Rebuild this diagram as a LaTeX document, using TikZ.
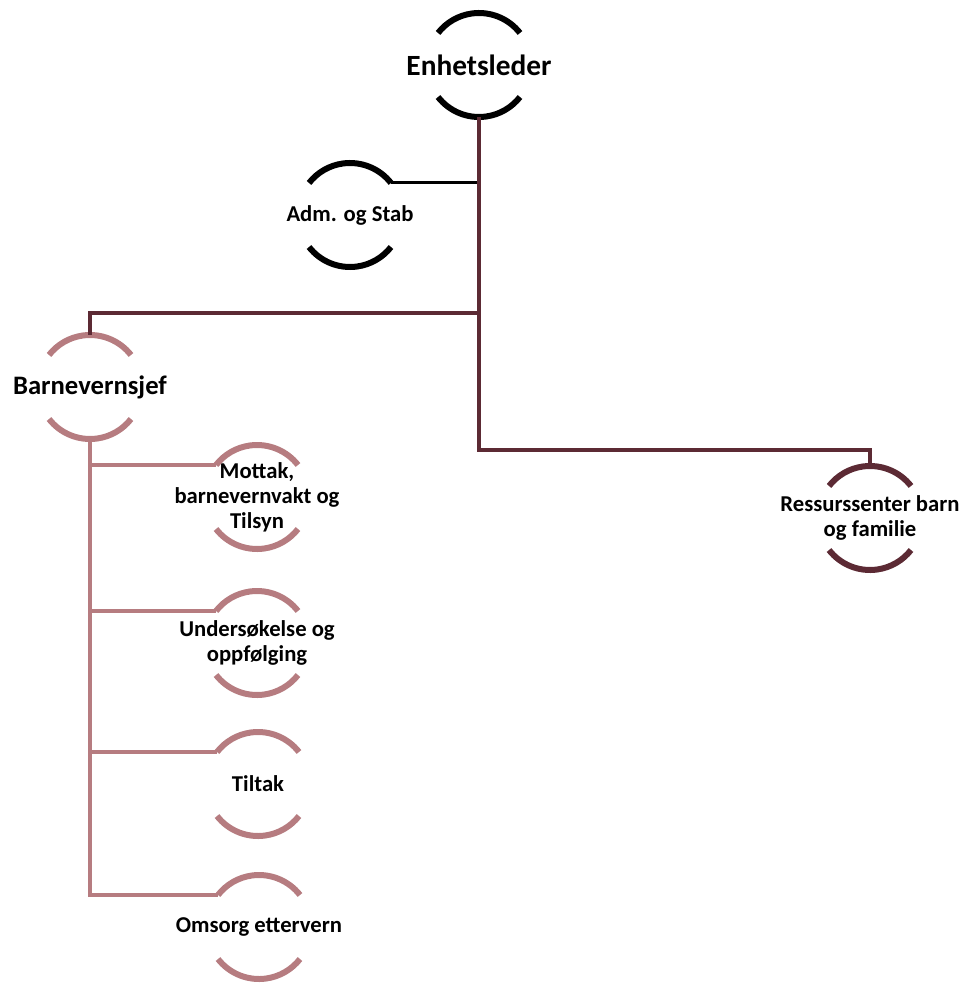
\documentclass[tikz,border=0pt]{standalone}
\usepackage{fontspec}
\setmainfont{Carlito}
\definecolor{vin}{RGB}{92,42,52}
\definecolor{rosa}{RGB}{182,124,128}
\tikzset{
    ring/.style={circle,minimum size=78pt,inner sep=0pt,outer sep=0pt},
    ringarc/.style={line width=4.5pt},
    headtext/.style={font=\fontsize{22}{26}\selectfont\bfseries},
    chieftext/.style={font=\fontsize{20}{24}\selectfont\bfseries},
    unittext/.style={font=\fontsize{17}{18.75}\selectfont\bfseries,align=center},
    trunk/.style={vin,line width=3pt},
    stabline/.style={black,line width=2.25pt},
    rosaline/.style={rosa,line width=3pt}
}
\begin{document}
\begin{tikzpicture}[x=0.75pt,y=-0.75pt]
        \useasboundingbox (0,0) rectangle (963,987);
        \node [ring,label={[headtext]center:Enhetsleder}] (enh) at (479,65) {};
        \node [ring,label={[unittext]center:Adm. og Stab}] (adm) at (350,215) {};
        \node [ring,label={[chieftext]center:Barnevernsjef}] (bvj) at (90,387) {};
        \node [ring,label={[unittext]center:Mottak,\\barnevernvakt og\\Tilsyn}] (mot) at (257,497) {};
        \node [ring,label={[unittext]center:Undersøkelse og\\oppfølging}] (und) at (257,643) {};
        \node [ring,label={[unittext]center:Tiltak}] (til) at (258,784) {};
        \node [ring,label={[unittext]center:Omsorg ettervern}] (oms) at (259,927) {};
        \node [ring,label={[unittext]center:Ressurssenter barn\\og familie}] (res) at (870,518) {};
        \foreach \n/\col in {enh/black,adm/black,bvj/rosa,mot/rosa,und/rosa,til/rosa,oms/rosa,res/vin} {
            \draw [ringarc,\col] (\n.38) arc [start angle=38,end angle=142,radius=39pt];
            \draw [ringarc,\col] (\n.218) arc [start angle=218,end angle=322,radius=39pt];
        }
        \draw [stabline] (adm.38) -- (adm.38 -| enh.south);
        \draw [trunk] (enh.south) -- ++(0,333) -| (res.north);
        \draw [trunk] (enh.south) ++(0,196) -| (bvj.north);
        \draw [rosaline] (bvj.south) |- (oms.142);
        \foreach \u in {mot,und,til}
            \draw [rosaline] (bvj.south |- \u.142) -- (\u.142);
\end{tikzpicture}
\end{document}
